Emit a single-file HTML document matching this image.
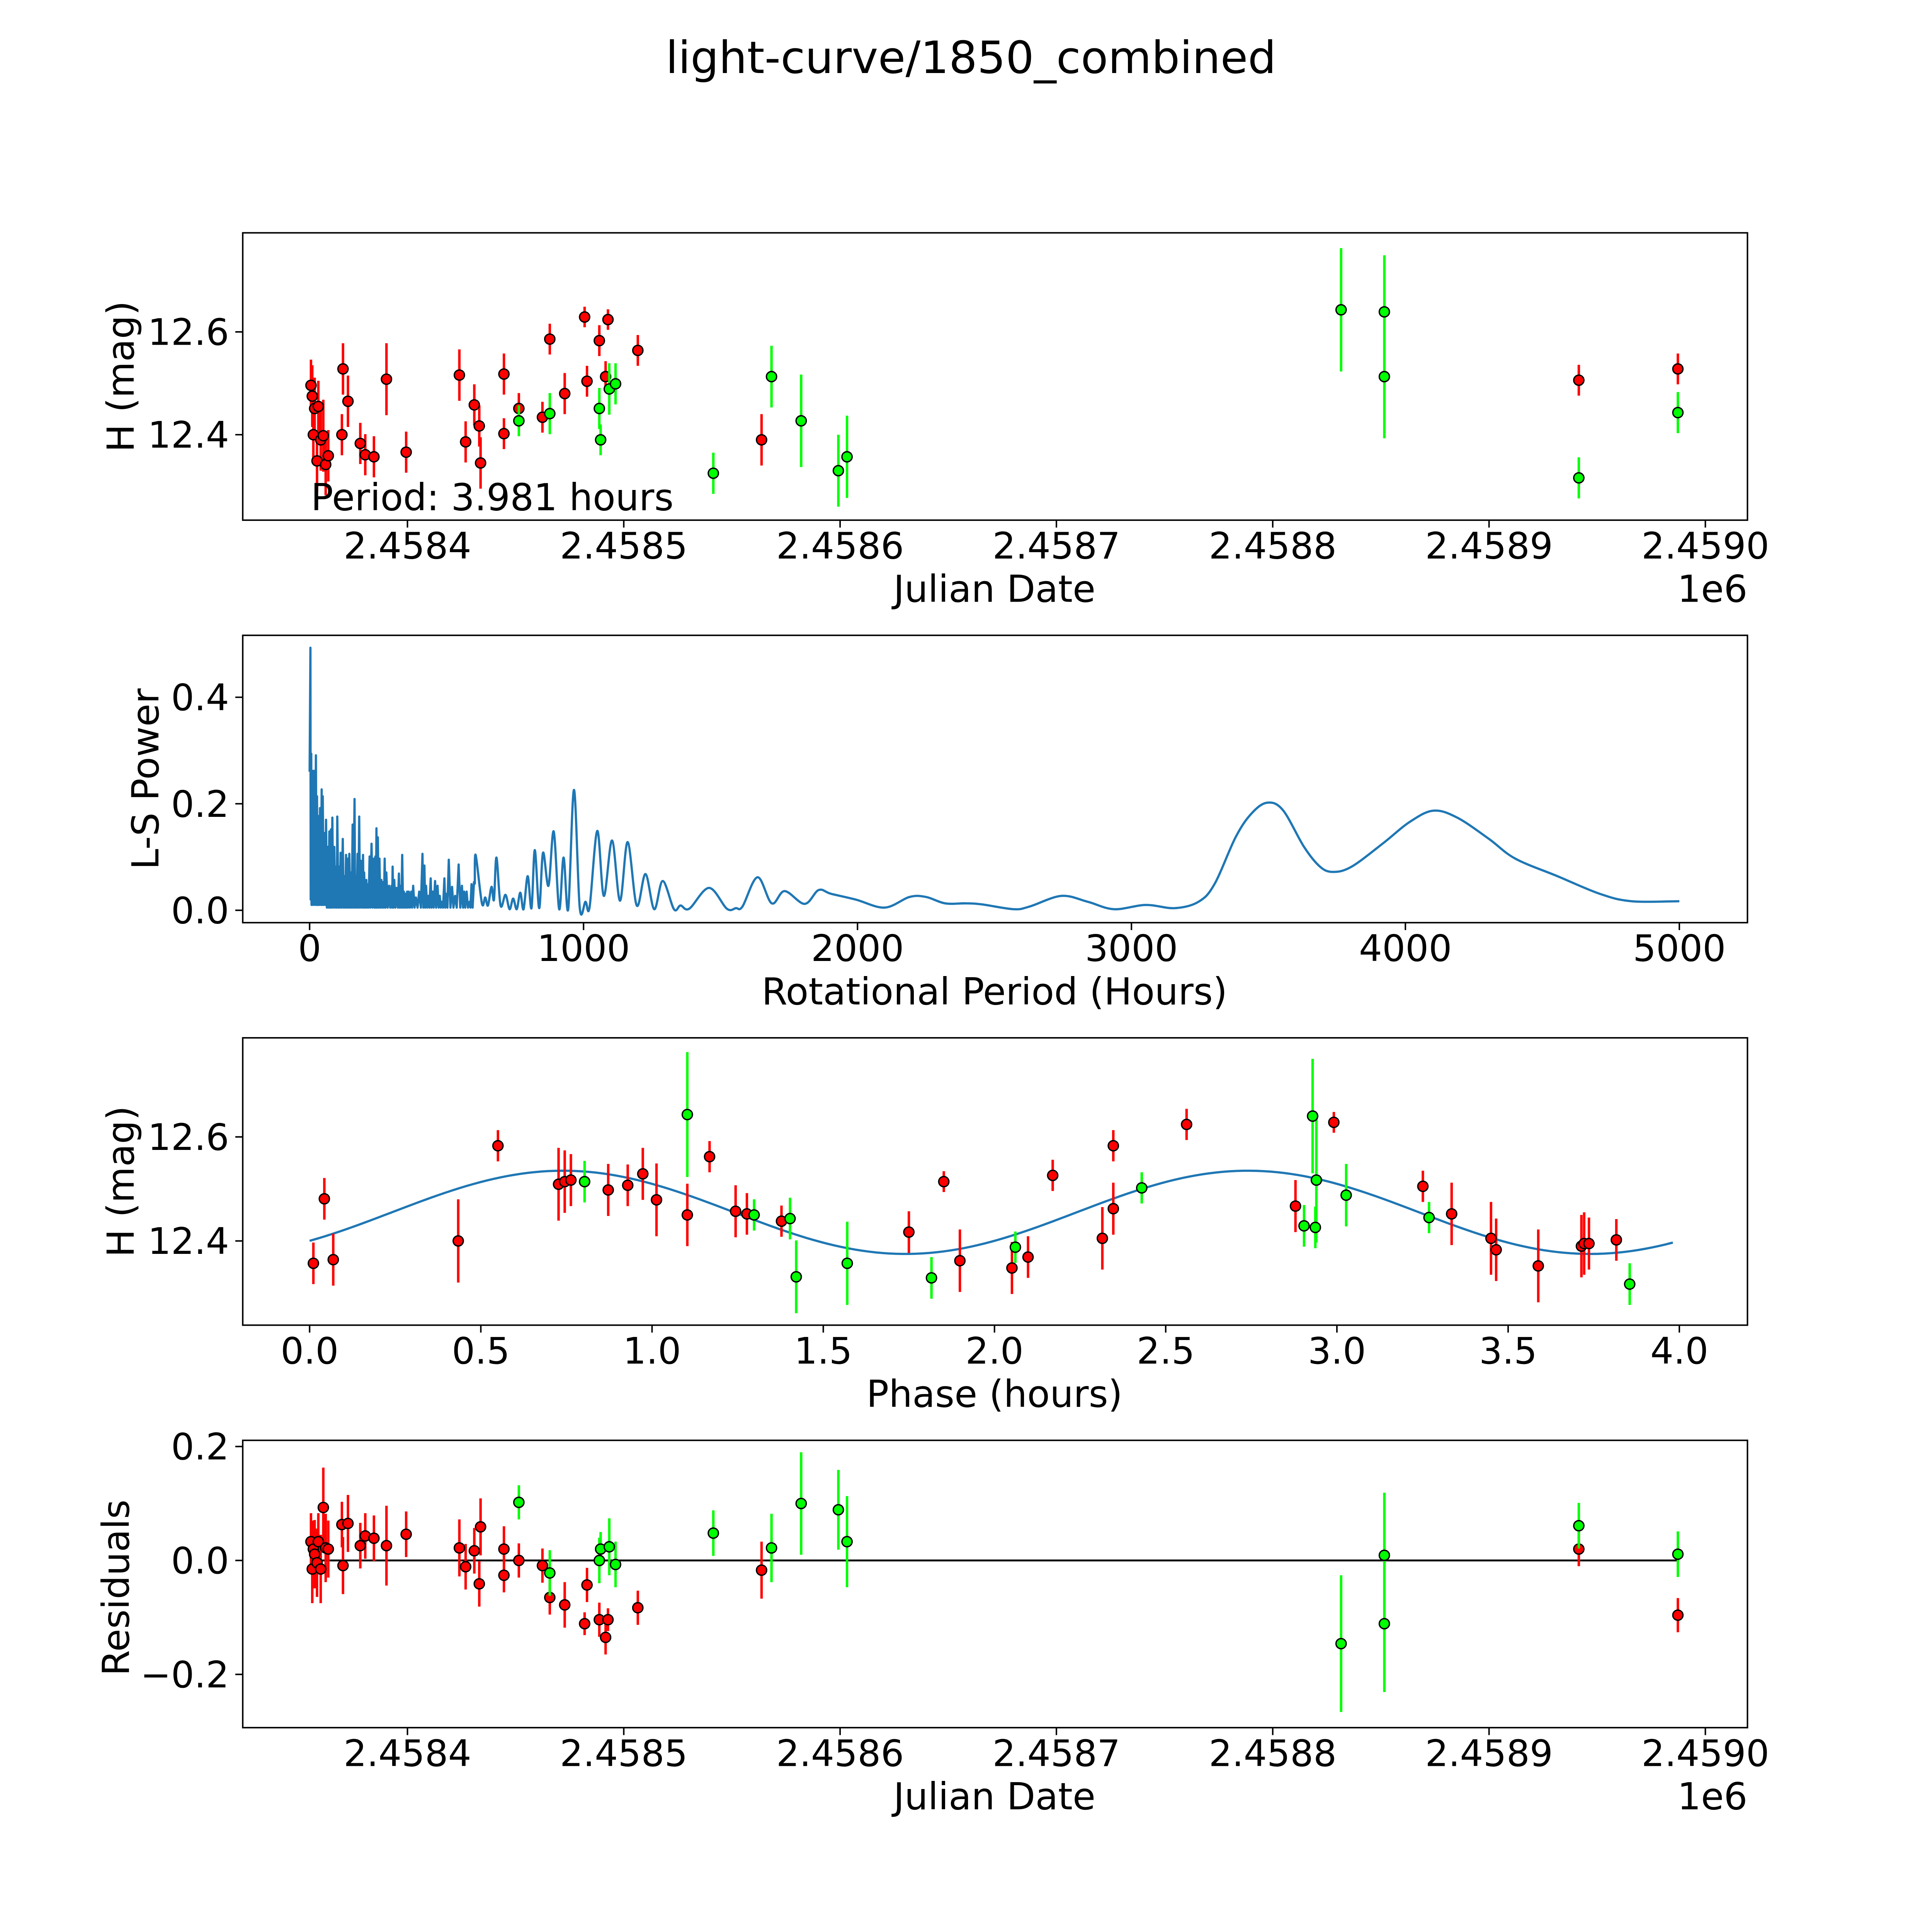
<!DOCTYPE html>
<html><head><meta charset="utf-8"><style>
html,body{margin:0;padding:0;background:#fff;overflow:hidden;width:100vw;height:100vh;}
#wrap{position:fixed;left:0;top:0;width:100vw;height:100vh;overflow:hidden;}
svg{display:block;font-family:"DejaVu Sans","Liberation Sans",sans-serif;width:100%;height:100%;}
</style></head><body>
<div id="wrap">
<svg id="fig" xmlns="http://www.w3.org/2000/svg" viewBox="0 0 1560 1560" preserveAspectRatio="xMidYMid meet">
<rect width="1560" height="1560" fill="#fff"/>
<text x="784" y="59" font-size="36" text-anchor="middle">light-curve/1850_combined</text>
</svg>
</div>
<script>
// ---- Panel 1 / 4 data (JD - 2458000 days) ----
const redJD = [355.4,356.0,356.5,357.1,358.2,358.8,359.9,361.1,362.2,363.4,369.7,370.2,372.5,378.2,380.5,384.5,390.3,399.4,424.0,426.9,430.9,433.2,433.8,444.6,444.6,451.5,462.4,465.8,472.7,481.9,483.0,488.7,491.6,492.7,506.5,563.7,941.5,987.3];
const redMag = [12.496,12.475,12.400,12.451,12.349,12.455,12.390,12.398,12.342,12.359,12.400,12.528,12.465,12.383,12.361,12.357,12.508,12.366,12.516,12.386,12.458,12.417,12.345,12.402,12.518,12.451,12.434,12.586,12.480,12.629,12.504,12.583,12.513,12.624,12.564,12.390,12.506,12.528];
const redErr = [0.05,0.06,0.05,0.06,0.06,0.05,0.06,0.07,0.06,0.05,0.04,0.05,0.05,0.04,0.04,0.04,0.07,0.04,0.05,0.04,0.04,0.04,0.05,0.03,0.04,0.03,0.03,0.03,0.04,0.02,0.03,0.03,0.03,0.02,0.03,0.05,0.03,0.03];
const redRes = [0.033,-0.015,0.020,0.011,-0.004,0.033,-0.015,0.093,0.022,0.020,0.063,-0.009,0.065,0.026,0.043,0.039,0.026,0.046,0.022,-0.011,0.017,-0.041,0.059,-0.026,0.020,0.000,-0.009,-0.065,-0.078,-0.111,-0.043,-0.104,-0.135,-0.104,-0.083,-0.017,0.020,-0.096];
const grnJD = [451.5,465.8,488.7,489.3,493.3,496.2,541.4,568.3,582.0,599.2,603.2,831.6,851.6,851.6,941.5,987.3];
const grnMag = [12.427,12.441,12.451,12.390,12.489,12.499,12.325,12.513,12.427,12.330,12.357,12.643,12.639,12.513,12.316,12.443];
const grnErr = [0.03,0.04,0.04,0.03,0.05,0.04,0.04,0.06,0.09,0.07,0.08,0.12,0.11,0.12,0.04,0.04];
const grnRes = [0.102,-0.022,0.000,0.020,0.024,-0.007,0.048,0.022,0.100,0.089,0.033,-0.146,0.009,-0.111,0.061,0.011];
const jdTicks = [400,500,600,700,800,900,1000];
const jdTickLabels = ["2.4584","2.4585","2.4586","2.4587","2.4588","2.4589","2.4590"];
const magTicks = [12.4,12.6];
const magTickLabels = ["12.4","12.6"];
const resTicks = [-0.2,0.0,0.2];
const resTickLabels = ["\u22120.2","0.0","0.2"];
// ---- Periodogram: [period (hours), power] ----
const lsDense = [[0,0.26],[3,0.493],[4,0.02],[6,0.294],[7,0.01],[9,0.262],[12,0.01],[15,0.262],[19,0.01],[23,0.291],[25,0.01],[27,0.214],[30,0.01],[33,0.177],[35,0.01],[38,0.192],[41,0.01],[44,0.227],[46,0.01],[48,0.214],[51,0.01],[54,0.145],[57,0.01],[60,0.170],[63,0.005],[66,0.119],[69,0.005],[72,0.148],[75,0.005],[78,0.152],[80,0.005],[83,0.174],[86,0.005],[90,0.119],[93,0.005],[97,0.082],[99,0.005],[101,0.176],[105,0.005],[109,0.082],[111,0.005],[113,0.108],[117,0.005],[121,0.134],[124,0.005],[127,0.064],[130,0.005],[133,0.104],[136,0.005],[139,0.097],[142,0.005],[145,0.106],[148,0.005],[151,0.071],[154,0.005],[157,0.161],[160,0.005],[164,0.209],[166,0.005],[169,0.064],[172,0.005],[175,0.106],[178,0.005],[181,0.176],[184,0.005],[187,0.093],[191,0.005],[195,0.104],[197,0.005],[199,0.071],[203,0.005],[207,0.057],[209,0.005],[211,0.049],[215,0.005],[219,0.101],[222,0.005],[226,0.125],[230,0.005],[234,0.097],[237,0.005],[240,0.101],[242,0.005],[244,0.154],[246,0.005],[249,0.137],[252,0.005],[255,0.097],[258,0.005],[262,0.057],[265,0.005],[268,0.053],[271,0.005],[274,0.097],[277,0.005],[280,0.071],[285,0.005],[290,0.046],[294,0.005],[299,0.046],[301,0.005],[303,0.082],[306,0.005],[309,0.057],[313,0.005],[317,0.042],[322,0.005],[326,0.069],[329,0.005],[332,0.046],[335,0.005],[338,0.104],[341,0.005],[344,0.035],[347,0.005],[350,0.031],[353,0.005],[356,0.035],[359,0.005],[362,0.035],[366,0.005],[371,0.035],[374,0.005],[378,0.046],[383,0.005],[388,0.024],[394,0.005],[400,0.035],[406,0.005],[412,0.106],[415,0.005],[419,0.084],[422,0.005],[425,0.046],[429,0.005],[433,0.027],[437,0.005],[442,0.060],[445,0.005],[449,0.035],[453,0.005],[458,0.055],[462,0.005],[467,0.046],[471,0.005],[475,0.027],[479,0.005],[483,0.016],[487,0.005],[492,0.060],[495,0.005],[498,0.031],[503,0.005],[508,0.095],[514,0.005],[520,0.044],[525,0.005],[531,0.027],[537,0.005],[544,0.086],[550,0.005],[556,0.046],[560,0.005],[564,0.035],[568,0.005],[573,0.035],[578,0.005],[584,0.016],[587,0.005],[591,0.049],[595,0.005],[600,0.053]];
const lsSmooth = [[603,0.05],[606,0.104],[629,0.013],[641,0.024],[651,0.009],[664,0.044],[673,0.020],[682,0.099],[697,0.009],[715,0.029],[730,0.002],[743,0.022],[756,0.002],[769,0.033],[781,0.002],[796,0.064],[810,0.004],[822,0.113],[838,0.004],[852,0.108],[872,0.046],[891,0.148],[911,0.002],[927,0.099],[944,0.002],[965,0.226],[986,0.005],[1007,0.016],[1022,0.006],[1050,0.149],[1074,0.027],[1104,0.131],[1133,0.018],[1161,0.128],[1194,0.009],[1226,0.068],[1258,0.002],[1289,0.055],[1330,0.002],[1354,0.009],[1386,0.003],[1458,0.042],[1523,0.003],[1556,0.004],[1580,0.007],[1635,0.062],[1687,0.013],[1734,0.036],[1807,0.012],[1858,0.038],[1903,0.031],[1994,0.020],[2099,0.005],[2190,0.025],[2250,0.025],[2320,0.013],[2397,0.013],[2455,0.011],[2570,0.002],[2628,0.007],[2744,0.027],[2840,0.016],[2936,0.002],[3052,0.010],[3158,0.004],[3245,0.016],[3303,0.049],[3380,0.137],[3437,0.181],[3495,0.202],[3553,0.188],[3630,0.119],[3688,0.082],[3736,0.072],[3804,0.082],[3919,0.126],[4016,0.166],[4102,0.187],[4189,0.174],[4305,0.134],[4401,0.097],[4555,0.064],[4709,0.031],[4825,0.017],[5000,0.017]];
const lsXTicks = [0,1000,2000,3000,4000,5000];
const lsXTickLabels = ["0","1000","2000","3000","4000","5000"];
const lsYTicks = [0.0,0.2,0.4];
const lsYTickLabels = ["0.0","0.2","0.4"];
// ---- Phase panel ----
const redPhase = [0.011,0.043,0.069,0.434,0.550,0.727,0.745,0.763,0.872,0.929,0.973,1.013,1.103,1.168,1.244,1.277,1.378,1.750,1.852,1.899,2.051,2.098,2.170,2.315,2.347,2.347,2.561,2.879,2.991,3.251,3.335,3.450,3.465,3.588,3.714,3.722,3.736,3.816];
const redPhaseMag = [12.357,12.481,12.364,12.400,12.583,12.509,12.514,12.517,12.498,12.507,12.529,12.479,12.450,12.562,12.457,12.452,12.438,12.417,12.514,12.362,12.348,12.369,12.526,12.405,12.462,12.583,12.624,12.467,12.628,12.505,12.452,12.405,12.383,12.352,12.390,12.395,12.395,12.402];
const redPhaseErr = [0.04,0.04,0.05,0.08,0.03,0.07,0.06,0.05,0.05,0.04,0.05,0.07,0.06,0.03,0.05,0.04,0.03,0.04,0.02,0.06,0.05,0.04,0.03,0.06,0.05,0.03,0.03,0.05,0.02,0.03,0.06,0.07,0.06,0.07,0.06,0.06,0.05,0.04];
const grnPhase = [0.803,1.103,1.298,1.403,1.421,1.570,1.816,2.061,2.430,2.904,2.929,2.937,2.940,3.027,3.269,3.855];
const grnPhaseMag = [12.514,12.643,12.450,12.443,12.331,12.357,12.329,12.388,12.502,12.429,12.640,12.426,12.517,12.488,12.445,12.317];
const grnPhaseErr = [0.04,0.12,0.03,0.04,0.07,0.08,0.04,0.03,0.03,0.04,0.11,0.04,0.12,0.06,0.03,0.04];
const modelParams = [12.455, 0.08, 0.74, 2.0, 3.981]; // mean, amplitude, peak phase, half-period, period
const phTicks = [0,0.5,1,1.5,2,2.5,3,3.5,4];
const phTickLabels = ["0.0","0.5","1.0","1.5","2.0","2.5","3.0","3.5","4.0"];

const NS = "http://www.w3.org/2000/svg";
const fig = document.getElementById('fig');
const TICK_FS = 29.5, LABEL_FS = 30;
function mk(tag, attrs, parent){const e=document.createElementNS(NS,tag);for(const k in attrs)e.setAttribute(k,attrs[k]);(parent||fig).appendChild(e);return e;}
function lin(d0,d1,r0,r1){return v=>r0+(v-d0)*(r1-r0)/(d1-d0);}

function frame(name,x0,y0,x1,y1){
  const r=mk('rect',{x:x0,y:y0,width:x1-x0,height:y1-y0,fill:'none',stroke:'#000','stroke-width':1.2});
  
  
}
function xticks(name,ticks,labels,sx,y1){
  const g=mk('g',{});
  
  
  ticks.forEach((t,i)=>{const x=sx(t);mk('line',{x1:x,x2:x,y1:y1,y2:y1+6,stroke:'#000','stroke-width':1.2},g);
    const tx=mk('text',{x:x,y:y1+31,'font-size':TICK_FS,'text-anchor':'middle'},g);tx.textContent=labels[i];});
}
function yticks(name,ticks,labels,sy,x0){
  const g=mk('g',{});
  
  
  ticks.forEach((t,i)=>{const y=sy(t);mk('line',{x1:x0-6,x2:x0,y1:y,y2:y,stroke:'#000','stroke-width':1.2},g);
    const tx=mk('text',{x:x0-11,y:y+10.5,'font-size':TICK_FS,'text-anchor':'end'},g);tx.textContent=labels[i];});
}
function label(name,txt,x,y,rot,anchor){
  const t=mk('text',{x:x,y:y,'font-size':LABEL_FS,'text-anchor':anchor||'middle'});
  if(rot)t.setAttribute('transform','rotate(-90 '+x+' '+y+')');
  t.textContent=txt;
  
  
}
function points(name,xs,ys,es,sx,sy,col){
  const g=mk('g',{});
  
  
  xs.forEach((v,i)=>{const x=sx(v);
    if(es){mk('line',{x1:x,x2:x,y1:sy(ys[i]-es[i]),y2:sy(ys[i]+es[i]),stroke:col,'stroke-width':2},g);}});
  xs.forEach((v,i)=>{
    const c=mk('circle',{cx:sx(v),cy:sy(ys[i]),r:4.1,fill:col,stroke:'#000','stroke-width':1.1},g);
    
    
  });
}

// Panel 1
{const x0=196,x1=1411,y0=188,y1=420;
 const sx=lin(400,1000,329,1377), sy=lin(12.4,12.6,351,268);
 frame('lightcurve-axes',x0,y0,x1,y1);
 xticks('lightcurve-x-ticks',jdTicks,jdTickLabels,sx,y1);
 yticks('lightcurve-y-ticks',magTicks,magTickLabels,sy,x0);
 points('red-observations',redJD,redMag,redErr,sx,sy,'#ff0000');
 points('green-observations',grnJD,grnMag,grnErr,sx,sy,'#00ff00');
 label('lightcurve-x-title','Julian Date',803,486);
 label('lightcurve-x-offset','1e6',1411,486,false,'end');
 label('lightcurve-y-title','H (mag)',108,304,true);
 label('period-annotation','Period: 3.981 hours',251,412,false,'start');
}
// Panel 2
{const x0=196,x1=1411,y0=513,y1=745;
 const sx=lin(0,5000,250,1356), sy=lin(0,0.4,735,563);
 frame('periodogram-axes',x0,y0,x1,y1);
 xticks('periodogram-x-ticks',lsXTicks,lsXTickLabels,sx,y1);
 yticks('periodogram-y-ticks',lsYTicks,lsYTickLabels,sy,x0);
 let d='';
 lsDense.forEach((p,i)=>{d+=(i?'L':'M')+sx(p[0]).toFixed(2)+' '+sy(p[1]).toFixed(2);});
 const px=lsSmooth.map(p=>sx(p[0])), py=lsSmooth.map(p=>sy(p[1]));
 d+='L'+px[0].toFixed(2)+' '+py[0].toFixed(2);
 for(let i=1;i<px.length;i++){
   const i0=Math.max(i-2,0), i3=Math.min(i+1,px.length-1);
   const c1x=px[i-1]+(px[i]-px[i0])/6, c1y=py[i-1]+(py[i]-py[i0])/6;
   const c2x=px[i]-(px[i3]-px[i-1])/6, c2y=py[i]-(py[i3]-py[i-1])/6;
   d+='C'+c1x.toFixed(2)+' '+c1y.toFixed(2)+' '+c2x.toFixed(2)+' '+c2y.toFixed(2)+' '+px[i].toFixed(2)+' '+py[i].toFixed(2);
 }
 const pth=mk('path',{d:d,fill:'none',stroke:'#1f77b4','stroke-width':1.8,'stroke-linejoin':'round'});
 
 
 label('periodogram-x-title','Rotational Period (Hours)',803,811);
 label('periodogram-y-title','L-S Power',128,629,true);
}
// Panel 3
{const x0=196,x1=1411,y0=838,y1=1070;
 const sx=lin(0,4,250,1356), sy=lin(12.4,12.6,1002,918);
 frame('phase-axes',x0,y0,x1,y1);
 xticks('phase-x-ticks',phTicks,phTickLabels,sx,y1);
 yticks('phase-y-ticks',magTicks,magTickLabels,sy,x0);
 let d='';const n=200;
 for(let i=0;i<=n;i++){const t=modelParams[4]*i/n;
   const m=modelParams[0]+modelParams[1]*Math.cos(2*Math.PI*(t-modelParams[2])/modelParams[3]);
   d+=(i?'L':'M')+sx(t).toFixed(2)+' '+sy(m).toFixed(2);}
 const pth=mk('path',{d:d,fill:'none',stroke:'#1f77b4','stroke-width':1.8});
 
 
 points('red-phase-observations',redPhase,redPhaseMag,redPhaseErr,sx,sy,'#ff0000');
 points('green-phase-observations',grnPhase,grnPhaseMag,grnPhaseErr,sx,sy,'#00ff00');
 label('phase-x-title','Phase (hours)',803,1136);
 label('phase-y-title','H (mag)',108,954,true);
}
// Panel 4
{const x0=196,x1=1411,y0=1163,y1=1395;
 const sx=lin(400,1000,329,1377), sy=lin(0,0.2,1260,1168);
 frame('residuals-axes',x0,y0,x1,y1);
 xticks('residuals-x-ticks',jdTicks,jdTickLabels,sx,y1);
 yticks('residuals-y-ticks',resTicks,resTickLabels,sy,x0);
 const zl=mk('line',{x1:sx(redJD[0]),x2:sx(redJD[redJD.length-1]),y1:sy(0),y2:sy(0),stroke:'#000','stroke-width':1.5});
 
 
 points('red-residuals',redJD,redRes,redErr,sx,sy,'#ff0000');
 points('green-residuals',grnJD,grnRes,grnErr,sx,sy,'#00ff00');
 label('residuals-x-title','Julian Date',803,1461);
 label('residuals-x-offset','1e6',1411,1461,false,'end');
 label('residuals-y-title','Residuals',104,1282,true);
}
</script>
</body></html>
